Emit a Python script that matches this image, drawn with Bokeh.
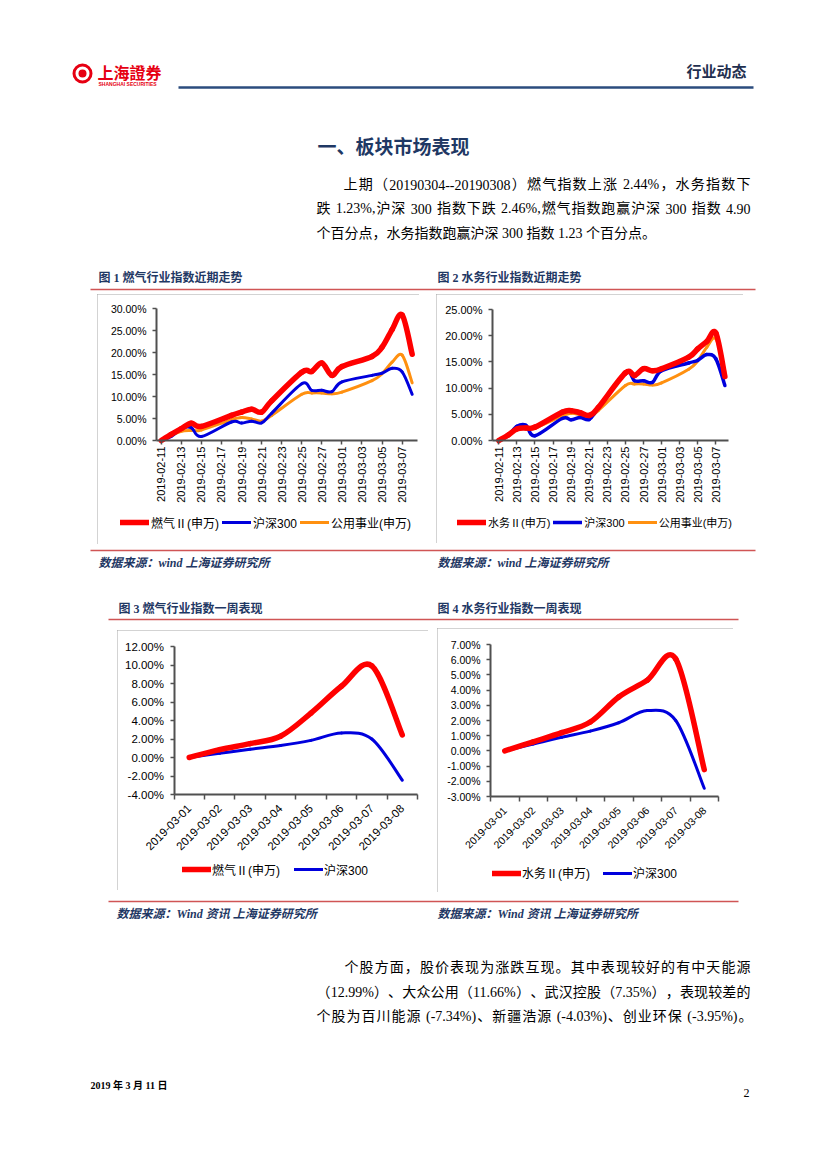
import numpy as np
from datetime import date
from bokeh.plotting import figure
from bokeh.models import (Range1d, FixedTicker, PrintfTickFormatter, Legend,
                          LegendItem, Spacer)
from bokeh.layouts import column, row
from bokeh.core.properties import value
from bokeh.embed import file_html
from bokeh.resources import INLINE

# ------------------------------------------------------------------ data
trade_dates = ["2019-02-11", "2019-02-12", "2019-02-13", "2019-02-14", "2019-02-15",
               "2019-02-18", "2019-02-19", "2019-02-20", "2019-02-21", "2019-02-22",
               "2019-02-25", "2019-02-26", "2019-02-27", "2019-02-28", "2019-03-01",
               "2019-03-04", "2019-03-05", "2019-03-06", "2019-03-07", "2019-03-08"]
gas_cum = [0.0, 1.4, 2.7, 3.9, 3.2, 5.7, 6.45, 7.1, 6.45, 9.0,
           15.5, 15.7, 17.6, 14.8, 16.8, 19.1, 21.2, 25.2, 28.5, 19.6]
water_cum = [0.0, 1.0, 2.2, 2.4, 2.55, 5.4, 5.7, 5.3, 4.8, 6.3,
             12.9, 12.4, 13.7, 13.3, 13.7, 15.9, 17.5, 18.9, 20.5, 12.2]
hs300_cum = [0.0, 0.9, 2.7, 2.9, 0.9, 4.2, 3.95, 4.4, 4.0, 6.2,
             12.9, 11.4, 11.4, 11.1, 13.3, 14.8, 15.3, 16.4, 15.6, 10.5]
util_cum = [0.0, 1.1, 2.1, 2.3, 2.4, 4.7, 5.2, 4.9, 4.4, 5.7,
            10.5, 10.8, 10.8, 10.6, 11.0, 13.6, 15.2, 17.8, 19.4, 13.1]
trend_tick_labels = ["2019-02-11", "2019-02-13", "2019-02-15", "2019-02-17", "2019-02-19",
                     "2019-02-21", "2019-02-23", "2019-02-25", "2019-02-27", "2019-03-01",
                     "2019-03-03", "2019-03-05", "2019-03-07"]
trend1_yticks = [0, 5, 10, 15, 20, 25, 30]
trend2_yticks = [0, 5, 10, 15, 20, 25]

week_labels = ["2019-03-01", "2019-03-02", "2019-03-03", "2019-03-04",
               "2019-03-05", "2019-03-06", "2019-03-07", "2019-03-08"]
gas_week = [0.0, 0.85, 1.5, 2.3, 4.8, 7.7, 9.9, 2.44]
water_week = [0.0, 0.6, 1.2, 1.9, 3.55, 4.65, 6.05, -1.23]
hs300_week = [0.0, 0.45, 0.9, 1.3, 1.85, 2.65, 2.0, -2.46]
week1_yticks = [-4, -2, 0, 2, 4, 6, 8, 10, 12]
week2_yticks = [-3, -2, -1, 0, 1, 2, 3, 4, 5, 6, 7]

name_gas = "燃气Ⅱ(申万)"
name_water = "水务Ⅱ(申万)"
name_hs = "沪深300"
name_util = "公用事业(申万)"

RED = "#FF0000"
BLUE = "#0000DD"
ORANGE = "#FF9010"
AXC = "#505050"
NAVY = "#1F3864"
RULE = "#D05555"
BOX = {"outline": "1px solid #a6a6a6", "outline-offset": "-1px"}

CJK = "Noto Sans CJK SC"
SERIF_CJK = "'Liberation Serif', 'Noto Sans CJK SC'"
SANS_CJK = "'Liberation Sans', 'Noto Sans CJK SC'"

start = date(2019, 2, 11)


def day_of(s):
    y, m, d = map(int, s.split("-"))
    return (date(y, m, d) - start).days


trade_x = [day_of(s) for s in trade_dates]


def smooth(xs, ys):
    xs = np.asarray(xs, float)
    ys = np.asarray(ys, float)
    n = len(xs)
    xp = np.concatenate([[xs[0]], xs, [xs[-1]]])
    yp = np.concatenate([[ys[0]], ys, [ys[-1]]])
    return dict(
        x0=xs[:-1], y0=ys[:-1], x1=xs[1:], y1=ys[1:],
        cx0=xs[:-1] + (xp[2:n + 1] - xp[0:n - 1]) / 6.0,
        cy0=ys[:-1] + (yp[2:n + 1] - yp[0:n - 1]) / 6.0,
        cx1=xs[1:] - (xp[3:n + 2] - xp[1:n]) / 6.0,
        cy1=ys[1:] - (yp[3:n + 2] - yp[1:n]) / 6.0,
    )


def draw(p, xs, ys, color, width):
    s = smooth(xs, ys)
    return p.bezier(x0=s["x0"], y0=s["y0"], x1=s["x1"], y1=s["y1"],
                    cx0=s["cx0"], cy0=s["cy0"], cx1=s["cx1"], cy1=s["cy1"],
                    line_color=color, line_width=width, line_cap="round")


def chart(W, H, L, R, T, B, xspan, yspan, yticks, ysize):
    # the frame fills the whole box; axes sit inside at fixed locations
    kx = (W - L - R) / (xspan[1] - xspan[0])
    ky = (H - T - B) / (yspan[1] - yspan[0])
    xr = (xspan[0] - L / kx, xspan[1] + R / kx)
    yr = (yspan[0] - B / ky, yspan[1] + T / ky)
    p = figure(width=W, height=H, x_range=Range1d(*xr), y_range=Range1d(*yr),
               output_backend="svg", toolbar_location=None, min_border=0)
    p.outline_line_color = None
    p.xgrid.visible = False
    p.ygrid.visible = False
    p.background_fill_color = "white"
    p.border_fill_color = "white"
    p.styles = BOX
    for ax in (p.xaxis[0], p.yaxis[0]):
        ax.axis_line_color = AXC
        ax.axis_line_width = 2
        ax.major_tick_line_color = AXC
        ax.major_tick_line_width = 1.5
        ax.minor_tick_line_color = AXC
        ax.minor_tick_line_width = 1.5
        ax.major_tick_in = 0
        ax.minor_tick_in = 0
        ax.minor_tick_out = 0
        ax.major_label_text_font = "Liberation Sans"
        ax.major_label_text_color = "#000000"
    p.xaxis.fixed_location = yspan[0]
    p.yaxis.fixed_location = xspan[0]
    p.xaxis.bounds = xspan
    p.yaxis.bounds = yspan
    p.yaxis.ticker = FixedTicker(ticks=yticks)
    p.yaxis.formatter = PrintfTickFormatter(format="%.2f%%")
    p.yaxis.major_tick_out = 4
    p.yaxis.major_label_standoff = 6
    p.yaxis.major_label_text_font_size = ysize
    return p


def add_legend(p, items, loc, fsize, spacing, standoff):
    lg = Legend(items=[LegendItem(label=l, renderers=[r]) for l, r in items],
                location=loc, orientation="horizontal", glyph_width=29,
                glyph_height=14, label_height=14, label_standoff=standoff,
                spacing=spacing, padding=0, margin=0, border_line_color=None,
                background_fill_alpha=0, label_text_font=SANS_CJK,
                label_text_font_size=fsize, label_text_color="#000000")
    p.add_layout(lg)


def trend_axis(p):
    ticks = [day_of(s) for s in trend_tick_labels]
    p.xaxis.ticker = FixedTicker(ticks=ticks)
    p.xaxis.major_label_overrides = {t: s for t, s in zip(ticks, trend_tick_labels)}
    p.xaxis.major_label_orientation = np.pi / 2
    p.xaxis.major_tick_out = 4
    p.xaxis.major_label_standoff = 2
    p.xaxis.major_label_text_font_size = "11px"


def week_axis(p, fsize):
    idx = list(range(len(week_labels)))
    p.xaxis.ticker = FixedTicker(ticks=idx, minor_ticks=[i - 0.5 for i in range(len(week_labels) + 1)])
    p.xaxis.major_label_overrides = {i: s for i, s in zip(idx, week_labels)}
    p.xaxis.major_label_orientation = np.pi / 4
    p.xaxis.major_tick_out = 0
    p.xaxis.minor_tick_out = 5
    p.xaxis.major_label_standoff = 7
    p.xaxis.major_label_text_font_size = fsize


# ---- chart 1
p1 = chart(322, 250, 59, 2, 14, 104, (-0.47, 25.53), (0, 30), trend1_yticks, "10.5px")
trend_axis(p1)
r1o = draw(p1, trade_x, util_cum, ORANGE, 3)
r1b = draw(p1, trade_x, hs300_cum, BLUE, 3)
r1r = draw(p1, trade_x, gas_cum, RED, 5.5)
add_legend(p1, [(name_gas, r1r), (name_hs, r1b), (name_util, r1o)], (23, 13.5), "12px", 3, 2)

# ---- chart 2
p2 = chart(307, 249, 56, 15, 15, 103, (-0.7, 25.4), (0, 25), trend2_yticks, "11px")
trend_axis(p2)
r2o = draw(p2, trade_x, util_cum, ORANGE, 3)
r2b = draw(p2, trade_x, hs300_cum, BLUE, 3.5)
r2r = draw(p2, trade_x, water_cum, RED, 5.5)
add_legend(p2, [(name_water, r2r), (name_hs, r2b), (name_util, r2o)], (21, 13), "11px", 3, 2)

# ---- chart 3
wx = list(range(len(week_labels)))
p3 = chart(311, 260, 56.5, 11, 16, 96, (-0.5, 7.5), (-4, 12), week1_yticks, "11.5px")
week_axis(p3, "11.5px")
r3b = draw(p3, wx, hs300_week, BLUE, 3)
r3r = draw(p3, wx, gas_week, RED, 5.5)
add_legend(p3, [(name_gas, r3r), (name_hs, r3b)], (65, 12.5), "12px", 14, 1)

# ---- chart 4
p4 = chart(296, 264, 53, 15, 16, 96, (-0.5, 7.5), (-3, 7), week2_yticks, "10.5px")
week_axis(p4, "10.5px")
r4b = draw(p4, wx, hs300_week, BLUE, 3)
r4r = draw(p4, wx, water_week, RED, 5.5)
add_legend(p4, [(name_water, r4r), (name_hs, r4b)], (55, 11), "12px", 13, 1)


# ------------------------------------------------------------ page parts
def page_fig(y0, y1):
    p = figure(width=827, height=y1 - y0, x_range=Range1d(0, 827), y_range=Range1d(y1, y0),
               output_backend="svg", toolbar_location=None, min_border=0,
               x_axis_location=None, y_axis_location=None)
    p.grid.visible = False
    p.outline_line_color = None
    p.background_fill_color = "white"
    p.border_fill_color = "white"
    return p


def txt(p, x, y, s, size, font=SERIF_CJK, color="#000000", style="normal", align="left"):
    p.text(x=[x], y=[y], text=[s], text_font=value(font), text_font_size=size,
           text_font_style=style, text_color=color, text_align=align,
           text_baseline="middle")


LATIN_W = {".": 0.25, "%": 0.833, "-": 0.333, ",": 0.25, "(": 0.333, ")": 0.333, " ": 0.25}


def justified(p, x0, x1, y, s, px=14):
    toks = []
    cur = ""
    for ch in s:
        if ord(ch) < 128:
            if ch == " ":
                if cur:
                    toks.append((cur, False))
                    cur = ""
                toks.append((" ", True))
            else:
                cur += ch
        else:
            if cur:
                toks.append((cur, False))
                cur = ""
            toks.append((ch, False))
    if cur:
        toks.append((cur, False))

    def width(t):
        if ord(t[0]) >= 128:
            return px
        return sum(LATIN_W.get(c, 0.5) for c in t) * px

    natural = sum(width(t) for t, _ in toks)
    gaps = max(len(toks) - 1, 1)
    extra = (x1 - x0 - natural) / gaps
    xs, texts = [], []
    pos = x0
    for t, is_space in toks:
        if not is_space:
            xs.append(pos)
            texts.append(t)
        pos += width(t) + extra
    p.text(x=xs, y=[y] * len(xs), text=texts, text_font=value(SERIF_CJK),
           text_font_size="%dpx" % px, text_color="#000000", text_align="left",
           text_baseline="middle")


def rule(p, x0, x1, y, color=RULE, w=1.3):
    p.segment(x0=[x0], y0=[y], x1=[x1], y1=[y], line_color=color, line_width=w)


top = page_fig(0, 294)
top.annulus(x=[82], y=[73], inner_radius=7, outer_radius=10, fill_color="#E60012", line_color=None)
top.scatter(x=[82], y=[73], size=8, marker="circle", fill_color="#E60012", line_color=None)
txt(top, 97, 71, "上海證券", "16px", font=CJK, color="#E60012", style="bold")
txt(top, 98, 83.5, "SHANGHAI SECURITIES", "5px", font="Liberation Sans", color="#E60012", style="bold")
txt(top, 746, 70, "行业动态", "15px", font=CJK, color="#1F2F4F", style="bold", align="right")
rule(top, 178, 753, 87, color="#2B4C7E", w=2.5)
txt(top, 393, 145, "一、板块市场表现", "19px", font=CJK, color=NAVY, style="bold", align="center")
justified(top, 343, 750, 184, "上期（20190304--20190308）燃气指数上涨 2.44%，水务指数下")
justified(top, 316, 750, 208, "跌 1.23%,沪深 300 指数下跌 2.46%,燃气指数跑赢沪深 300 指数 4.90")
txt(top, 316, 233, "个百分点，水务指数跑赢沪深 300 指数 1.23 个百分点。", "14px")
txt(top, 98, 277, "图 1 燃气行业指数近期走势", "12px", color=NAVY, style="bold")
txt(top, 437, 277, "图 2 水务行业指数近期走势", "12px", color=NAVY, style="bold")
rule(top, 90, 755, 289)

mid = page_fig(544, 628)
rule(mid, 90, 755, 550)
txt(mid, 98, 562, "数据来源：wind 上海证券研究所", "12px", color=NAVY, style="bold italic")
txt(mid, 437, 562, "数据来源：wind 上海证券研究所", "12px", color=NAVY, style="bold italic")
txt(mid, 118, 608, "图  3  燃气行业指数一周表现", "12px", color=NAVY, style="bold")
txt(mid, 437, 608, "图  4  水务行业指数一周表现", "12px", color=NAVY, style="bold")
rule(mid, 108, 738, 619)

bot = page_fig(892, 1169)
rule(bot, 108, 738, 901)
txt(bot, 116, 913, "数据来源：Wind 资讯 上海证券研究所", "12px", color=NAVY, style="bold italic")
txt(bot, 437, 913, "数据来源：Wind 资讯 上海证券研究所", "12px", color=NAVY, style="bold italic")
justified(bot, 344, 750, 967, "个股方面，股价表现为涨跌互现。其中表现较好的有中天能源")
justified(bot, 316, 750, 992, "（12.99%）、大众公用（11.66%）、武汉控股（7.35%），表现较差的")
justified(bot, 316, 752, 1016, "个股为百川能源 (-7.34%)、新疆浩源 (-4.03%)、创业环保 (-3.95%)。")
txt(bot, 90, 1085, "2019 年 3 月 11 日", "10px", style="bold")
txt(bot, 749, 1092, "2", "12px", align="right")

row1 = row(Spacer(width=97, height=250), p1, Spacer(width=17, height=250), p2,
           Spacer(width=84, height=250))
row2 = row(Spacer(width=117, height=264), column(Spacer(width=311, height=2), p3),
           Spacer(width=9, height=264), p4, Spacer(width=94, height=264))
page = column(top, row1, mid, row2, bot)

open("out.html", "w").write(file_html(page, INLINE))
